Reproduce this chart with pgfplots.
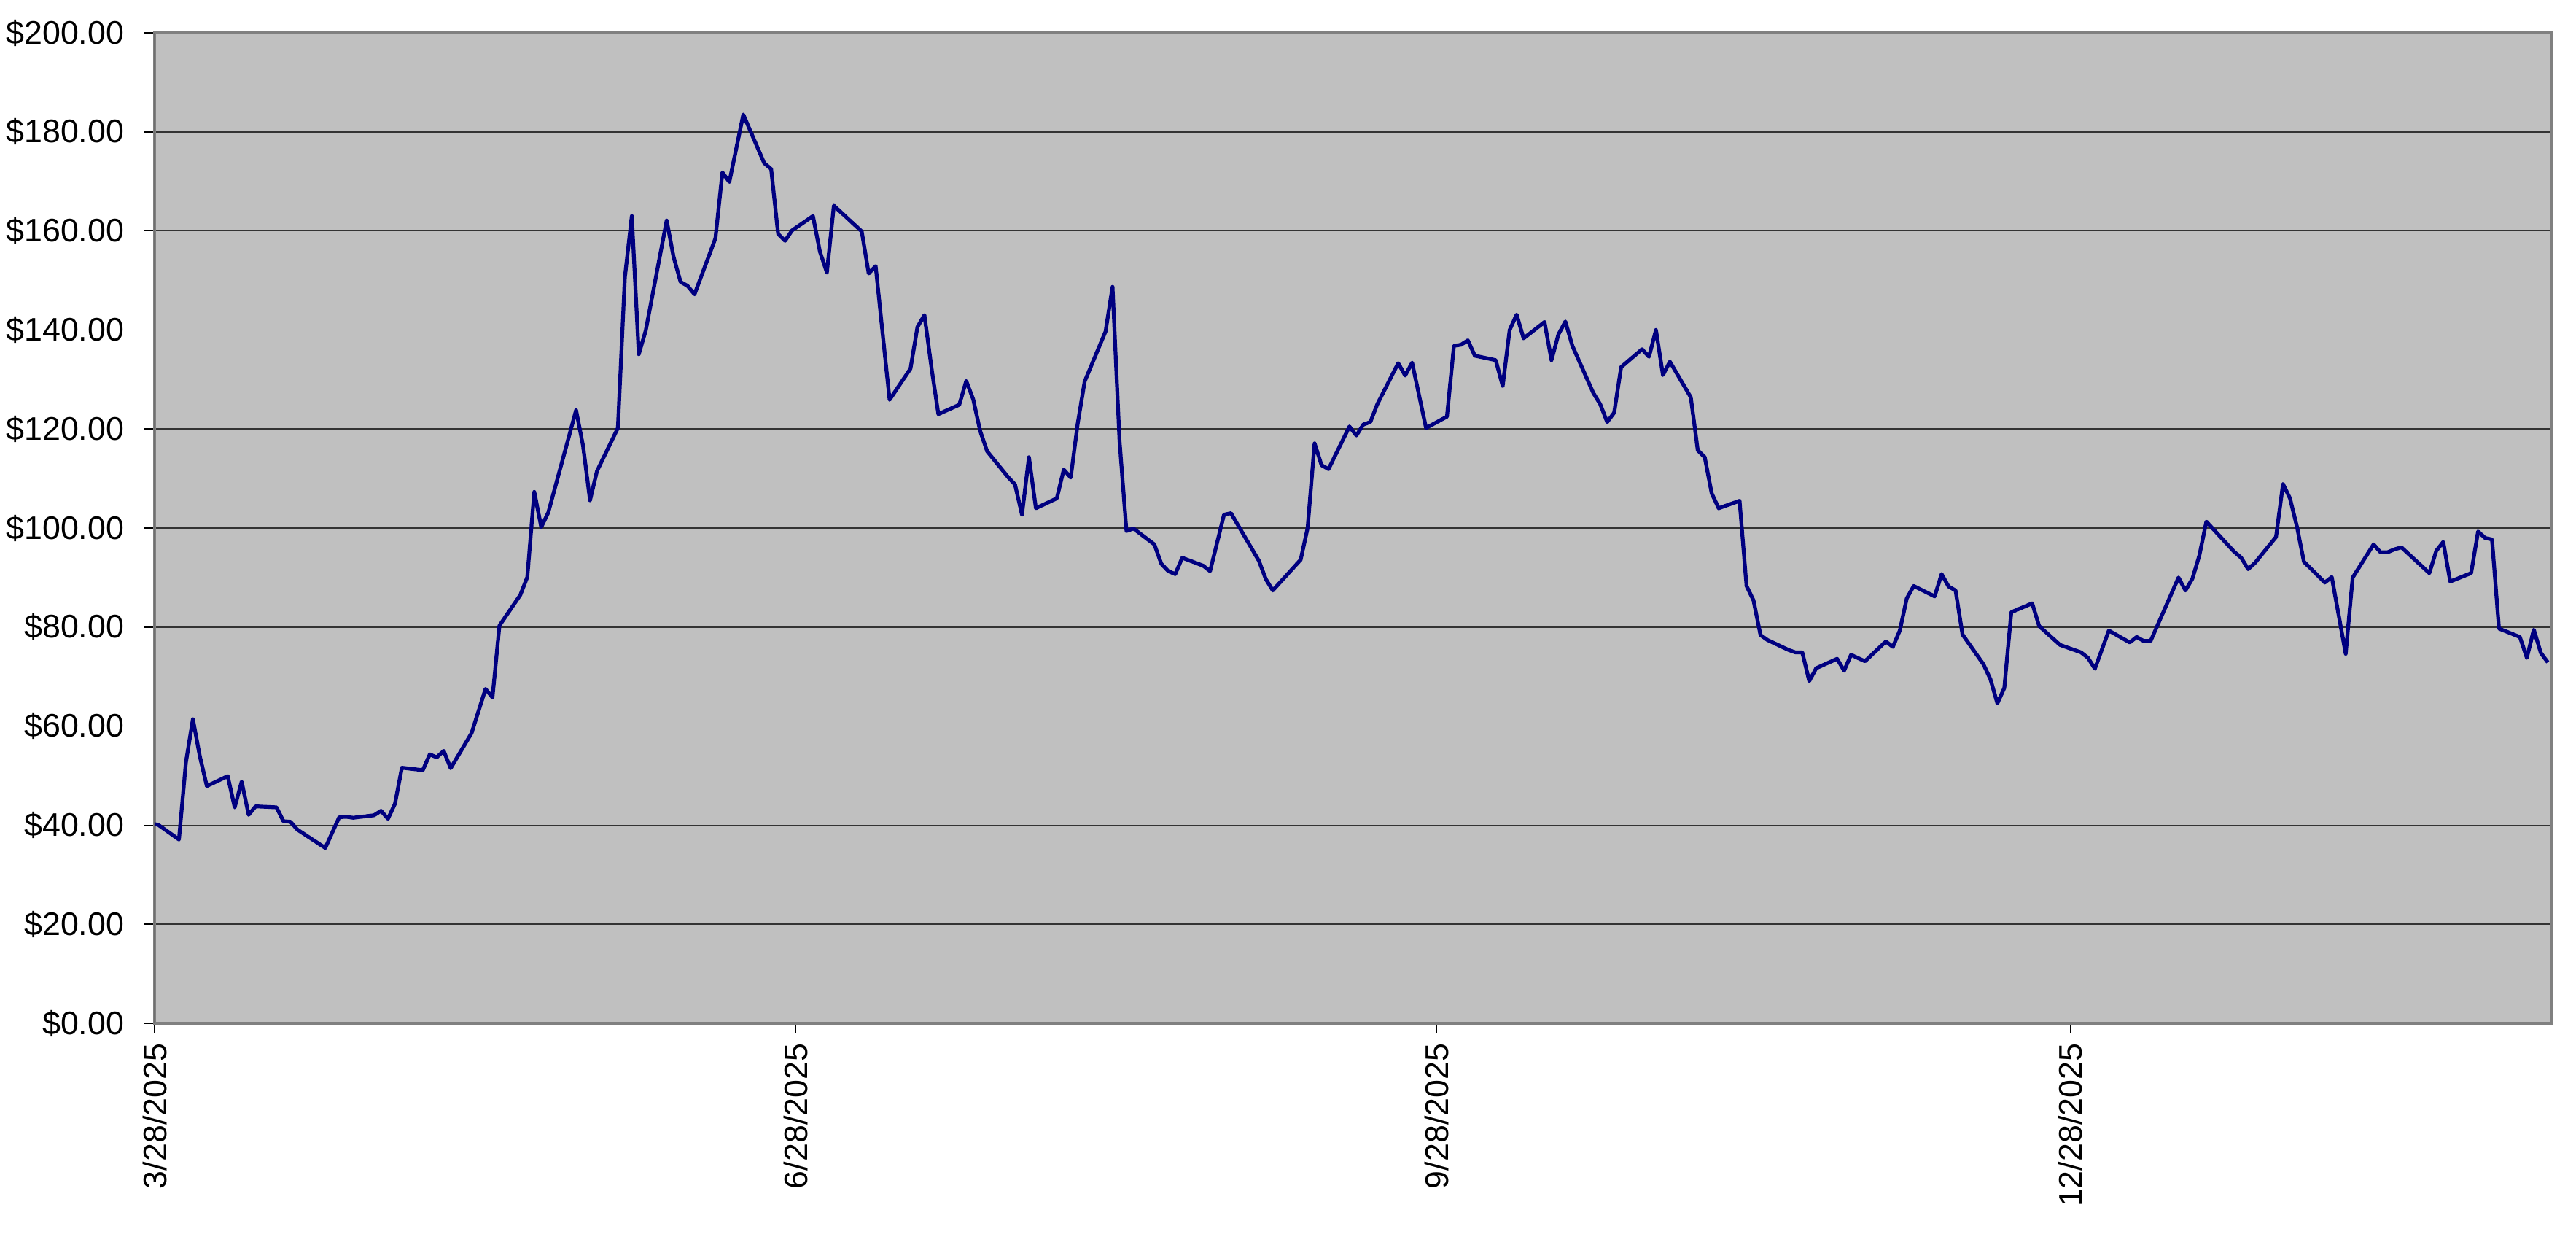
\documentclass[border=0pt]{standalone}
\usepackage{pgfplots}
\pgfplotsset{compat=1.18}
\usepackage{fontspec}
\setmainfont{Liberation Sans}
\definecolor{bgray}{HTML}{C0C0C0}
\definecolor{framegray}{HTML}{808080}
\definecolor{navyline}{HTML}{000080}
\begin{document}
\begin{tikzpicture}
\path[use as bounding box] (0,0) rectangle (883.25pt,429.25pt);
\begin{axis}[
  at={(53pt,78.5pt)}, anchor=south west,
  scale only axis, width=821.75pt, height=339.5pt,
  xmin=0, xmax=344, ymin=0, ymax=200,
  axis background/.style={fill=bgray},
  axis line style={draw=framegray, line width=1pt},
  ymajorgrids, grid style={black!80, line width=0.4pt},
  ytick={0,20,40,60,80,100,120,140,160,180,200},
  yticklabels={\$0.00,\$20.00,\$40.00,\$60.00,\$80.00,\$100.00,\$120.00,\$140.00,\$160.00,\$180.00,\$200.00},
  xtick={0,92,184,275},
  xticklabels={3/28/2025,6/28/2025,9/28/2025,12/28/2025},
  tick align=outside, tick pos=left, major tick length=3.4pt,
  tick style={black, line width=0.4pt},
  ticklabel style={font=\fontsize{11.2}{13}\selectfont, text=black},
  yticklabel style={xshift=-3.5pt},
  xticklabel style={rotate=90, anchor=east},
]
\addplot[navyline, line width=1.3pt, mark=none, line join=round] coordinates {
(-0.5,40.3) (0.5,40.1) (3.5,37.1) (4.5,52.7) (5.5,61.4) (6.5,53.9) (7.5,47.9)
(10.5,49.9) (11.5,43.6) (12.5,48.8) (13.5,42.1) (14.5,43.8) (17.5,43.6) (18.5,40.8)
(19.5,40.7) (20.5,39.1) (24.5,35.4) (26.5,41.6) (27.5,41.7) (28.5,41.5) (31.5,42.0)
(32.5,42.9) (33.5,41.3) (34.5,44.3) (35.5,51.6) (38.5,51.1) (39.5,54.3) (40.5,53.7)
(41.5,55.0) (42.5,51.5) (45.5,58.6) (47.5,67.5) (48.5,65.8) (49.5,80.3) (52.5,86.5)
(53.5,90.1) (54.5,107.3) (55.5,100.2) (56.5,103.1) (60.5,123.8) (61.5,116.6) (62.5,105.6)
(63.5,111.5) (66.5,120.2) (67.5,150.6) (68.5,163.0) (69.5,135.1) (70.5,139.9) (73.5,162.1)
(74.5,154.7) (75.5,149.7) (76.5,148.9) (77.5,147.2) (80.5,158.5) (81.5,171.8) (82.5,169.9)
(84.5,183.5) (87.5,173.7) (88.5,172.5) (89.5,159.4) (90.5,158.0) (91.5,160.1) (94.5,163.0)
(95.5,155.8) (96.5,151.6) (97.5,165.1) (101.5,159.9) (102.5,151.4) (103.5,152.9) (104.5,139.3)
(105.5,125.9) (108.5,132.2) (109.5,140.6) (110.5,143.0) (111.5,132.5) (112.5,123.0) (115.5,124.9)
(116.5,129.7) (117.5,126.0) (118.5,119.6) (119.5,115.5) (122.5,110.3) (123.5,108.8) (124.5,102.7)
(125.5,114.3) (126.5,104.0) (129.5,106.0) (130.5,111.8) (131.5,110.2) (132.5,121.1) (133.5,129.6)
(136.5,139.7) (137.5,148.7) (138.5,117.7) (139.5,99.4) (140.5,99.9) (143.5,96.7) (144.5,92.8)
(145.5,91.3) (146.5,90.7) (147.5,94.0) (150.5,92.4) (151.5,91.3) (153.5,102.7) (154.5,103.0)
(158.5,93.4) (159.5,89.7) (160.5,87.4) (164.5,93.6) (165.5,100.0) (166.5,117.1) (167.5,112.7)
(168.5,111.9) (171.5,120.5) (172.5,118.7) (173.5,120.9) (174.5,121.4) (175.5,125.0) (178.5,133.3)
(179.5,130.8) (180.5,133.4) (182.5,120.2) (185.5,122.5) (186.5,136.8) (187.5,137.0) (188.5,137.9)
(189.5,134.8) (192.5,133.9) (193.5,128.7) (194.5,140.0) (195.5,143.1) (196.5,138.3) (199.5,141.6)
(200.5,133.9) (201.5,139.1) (202.5,141.7) (203.5,136.8) (206.5,127.3) (207.5,125.0) (208.5,121.4)
(209.5,123.3) (210.5,132.5) (213.5,136.1) (214.5,134.6) (215.5,140.0) (216.5,130.9) (217.5,133.6)
(220.5,126.4) (221.5,115.7) (222.5,114.3) (223.5,107.0) (224.5,104.0) (227.5,105.5) (228.5,88.3)
(229.5,85.4) (230.5,78.4) (231.5,77.4) (234.5,75.4) (235.5,74.9) (236.5,74.9) (237.5,69.1)
(238.5,71.7) (241.5,73.6) (242.5,71.2) (243.5,74.4) (245.5,73.1) (248.5,77.1) (249.5,76.0)
(250.5,79.3) (251.5,85.8) (252.5,88.3) (255.5,86.2) (256.5,90.7) (257.5,88.2) (258.5,87.4)
(259.5,78.5) (262.5,72.5) (263.5,69.5) (264.5,64.6) (265.5,67.7) (266.5,83.0) (269.5,84.8)
(270.5,80.2) (273.5,76.4) (276.5,74.9) (277.5,73.8) (278.5,71.6) (280.5,79.3) (283.5,76.9)
(284.5,78.0) (285.5,77.2) (286.5,77.2) (287.5,80.4) (290.5,90.0) (291.5,87.4) (292.5,89.8)
(293.5,94.5) (294.5,101.3) (298.5,95.2) (299.5,94.0) (300.5,91.7) (301.5,93.0) (304.5,98.2)
(305.5,108.9) (306.5,106.0) (307.5,100.3) (308.5,93.2) (311.5,89.0) (312.5,90.1) (314.5,74.6)
(315.5,90.0) (318.5,96.7) (319.5,95.1) (320.5,95.1) (321.5,95.7) (322.5,96.1) (326.5,90.9)
(327.5,95.4) (328.5,97.2) (329.5,89.2) (332.5,90.9) (333.5,99.3) (334.5,98.0) (335.5,97.7)
(336.5,79.7) (339.5,78.0) (340.5,73.8) (341.5,79.5) (342.5,74.8) (343.5,72.9)
};
\draw[black, line width=0.7pt] (rel axis cs:0,0) -- (rel axis cs:0,1);
\end{axis}
\end{tikzpicture}
\end{document}
